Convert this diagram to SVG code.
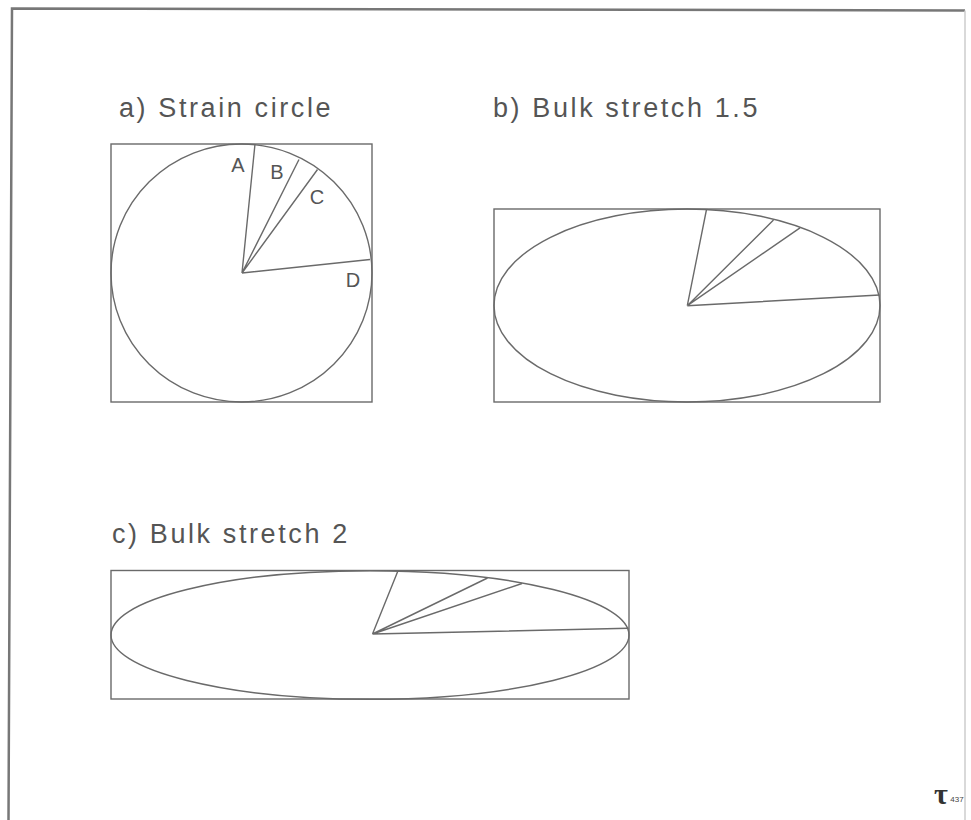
<svg xmlns="http://www.w3.org/2000/svg" width="971" height="820" viewBox="0 0 971 820">
<style>
.ln{fill:none;stroke:#6a6a6a;stroke-width:1.4}
.title{font-family:"Liberation Sans",Arial,sans-serif;font-size:27px;fill:#555;letter-spacing:2.6px}
.lbl{font-family:"Liberation Sans",Arial,sans-serif;font-size:20px;fill:#555;text-anchor:middle}
</style>
<rect width="971" height="820" fill="#fff"/>
<g id="frame">
<path d="M8.5,820 L12,8.5 L965,10.5" fill="none" stroke="#777" stroke-width="2.5"/>
<path d="M965,10.5 L965,820" fill="none" stroke="#ccc" stroke-width="1.5"/>
</g>
<g id="panel-a">
<text class="title" x="119" y="117">a) Strain circle</text>
<rect class="ln" x="111" y="144" width="261" height="258"/>
<ellipse class="ln" cx="241.5" cy="273" rx="130.5" ry="129"/>
<text class="lbl" x="238" y="171.5">A</text>
<text class="lbl" x="277" y="179">B</text>
<text class="lbl" x="317" y="204">C</text>
<text class="lbl" x="353" y="286.5">D</text>
</g>
<g id="panel-b">
<text class="title" x="493" y="117">b) Bulk stretch 1.5</text>
<rect class="ln" x="494" y="209" width="386" height="193"/>
<ellipse class="ln" cx="687" cy="305.5" rx="193" ry="96.5"/>
</g>
<g id="panel-c">
<text class="title" x="112" y="543">c) Bulk stretch 2</text>
<rect class="ln" x="111" y="570.5" width="518" height="128.5"/>
<ellipse class="ln" cx="370" cy="635" rx="259" ry="64.3"/>
</g>
<g id="connectors">
<path class="ln" d="M242,273 L255,144 M242,273 L299,159.5 M242,273 L317.5,169.5 M242,273 L370,259.5"/>
<path class="ln" d="M687.3,305.7 L706.5,209.5 M687.3,305.7 L773.5,220 M687.3,305.7 L800,227.8 M687.3,305.7 L879.5,295"/>
<path class="ln" d="M372.5,634 L398,570.8 M372.5,634 L487.5,578 M372.5,634 L522,583.5 M372.5,634 L628.5,628.3"/>
</g>
<g id="logo">
<text x="941" y="804" font-family="Liberation Serif,serif" font-size="30" font-weight="bold" fill="#333" text-anchor="middle">τ</text>
<text x="957" y="802" font-family="Liberation Sans,sans-serif" font-size="8" fill="#444" text-anchor="middle">437</text>
</g>
</svg>
